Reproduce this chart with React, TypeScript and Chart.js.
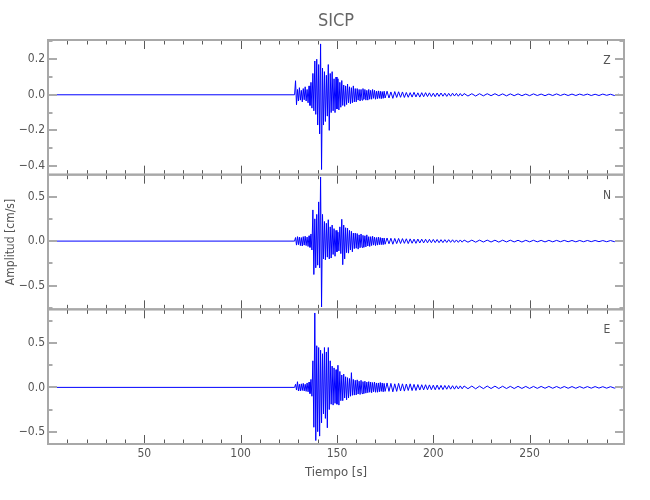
import React, { useEffect, useRef } from 'react';
import { Chart, registerables } from 'chart.js';

Chart.register(...registerables);

// ---------- text ----------
const stationName = 'SICP';
const componentNames = ['Z', 'N', 'E'];
const xAxisTitle = 'Tiempo [s]';
const yAxisTitle = 'Amplitud [cm/s]';

// ---------- axes ----------
const timeMin = 0;
const timeMax = 299;
const timeTicks = [50, 100, 150, 200, 250];
const timeMinorStep = 10;

const zRange = [-0.449, 0.308];
const nRange = [-0.766, 0.746];
const eRange = [-0.639, 0.881];
const zTicks = [-0.4, -0.2, 0.0, 0.2];
const nTicks = [-0.5, 0.0, 0.5];
const eTicks = [-0.5, 0.0, 0.5];
const zMinorStep = 0.1;
const nMinorStep = 0.25;
const eMinorStep = 0.25;

// ---------- data (cm/s) ----------
// pre-event baseline
const preTimes = [0];
const zPre = [0];
const nPre = [0];
const ePre = [0];

// strong motion: starts at 128 s, one value every 0.5 s
const onsetStart = 128;
const onsetStep = 0.5;
const zOnset = [
  0.0, 0.079, -0.056, 0.03, -0.035, 0.04, -0.03, 0.025, -0.04, 0.035,
  -0.028, 0.045, -0.035, 0.03, -0.045, 0.05, -0.06, 0.07, -0.075, 0.12,
  -0.09, 0.19, -0.11, 0.2, -0.17, 0.17, -0.22, 0.286, -0.42, 0.15,
  -0.17, 0.13, -0.15, 0.11, -0.12, 0.17, -0.2, 0.12, -0.1, 0.13,
  -0.09, 0.09, -0.1, 0.1, -0.08, 0.09, -0.085, 0.07, -0.07, 0.08,
  -0.06, 0.055, -0.065, 0.05, -0.055, 0.06, -0.045, 0.045, -0.05, 0.04,
  -0.045, 0.05, -0.04, 0.035, -0.04, 0.035, -0.03, 0.03, -0.035, 0.03,
  -0.03, 0.035, -0.025, 0.03, -0.03, 0.025, -0.03, 0.03, -0.025, 0.025,
  -0.025, 0.03, -0.02, 0.025, -0.025, 0.02, -0.022, 0.022, -0.02, 0.02,
  -0.022, 0.018, -0.02, 0.02, -0.018,
];
const nOnset = [
  0.0, 0.04, -0.045, 0.05, -0.04, 0.045, -0.05, 0.04, -0.055, 0.05,
  -0.045, 0.055, -0.05, 0.045, -0.06, 0.06, -0.07, 0.08, -0.1, 0.35,
  -0.375, 0.25, -0.3, 0.3, -0.27, 0.44, -0.3, 0.72, -0.74, 0.3,
  -0.2, 0.22, -0.21, 0.2, -0.18, 0.24, -0.2, 0.16, -0.19, 0.18,
  -0.15, 0.14, -0.17, 0.12, -0.12, 0.1, -0.11, 0.16, -0.14, 0.245,
  -0.265, 0.18, -0.2, 0.15, -0.13, 0.145, -0.135, 0.12, -0.1, 0.11,
  -0.12, 0.09, -0.085, 0.09, -0.08, 0.085, -0.09, 0.07, -0.075, 0.08,
  -0.07, 0.065, -0.07, 0.06, -0.065, 0.07, -0.055, 0.05, -0.06, 0.05,
  -0.05, 0.055, -0.045, 0.045, -0.05, 0.04, -0.045, 0.045, -0.04, 0.04,
  -0.04, 0.035, -0.04, 0.035, -0.035,
];
const eOnset = [
  0.0, 0.035, -0.03, 0.064, -0.04, 0.035, -0.04, 0.04, -0.035, 0.045,
  -0.04, 0.035, -0.045, 0.05, -0.05, 0.06, -0.07, 0.09, -0.1, 0.3,
  -0.45, 0.84, -0.6, 0.47, -0.5, 0.45, -0.55, 0.42, -0.4, 0.38,
  -0.3, 0.45, -0.35, 0.4, -0.456, 0.45, -0.25, 0.3, -0.19, 0.24,
  -0.2, 0.22, -0.18, 0.2, -0.19, 0.25, -0.2, 0.18, -0.15, 0.14,
  -0.15, 0.15, -0.12, 0.12, -0.14, 0.11, -0.12, 0.1, -0.1, 0.166,
  -0.09, 0.09, -0.087, 0.08, -0.085, 0.085, -0.075, 0.07, -0.08, 0.08,
  -0.07, 0.065, -0.07, 0.07, -0.065, 0.06, -0.06, 0.065, -0.055, 0.06,
  -0.06, 0.055, -0.05, 0.06, -0.055, 0.05, -0.055, 0.05, -0.05, 0.055,
  -0.045, 0.05, -0.05, 0.045, -0.045,
];

// coda: starts at 176 s, one value every second
const codaStart = 176;
const codaStep = 1;
const zCoda = [
  0.02, -0.018, 0.016, -0.02, 0.018, -0.015, 0.017, -0.014, 0.016, -0.015,
  0.013, -0.014, 0.012, -0.013, 0.014, -0.012, 0.011, -0.013, 0.012, -0.011,
  0.012, -0.01, 0.011, -0.01, 0.009, -0.011, 0.01, -0.009, 0.01, -0.008,
  0.009, -0.009, 0.008, -0.008, 0.009, -0.007, 0.008, -0.008, 0.007, -0.007,
];
const nCoda = [
  0.035, -0.03, 0.032, -0.035, 0.03, -0.028, 0.03, -0.027, 0.028, -0.025,
  0.026, -0.028, 0.025, -0.024, 0.022, -0.025, 0.023, -0.021, 0.022, -0.02,
  0.021, -0.019, 0.02, -0.018, 0.019, -0.017, 0.018, -0.018, 0.016, -0.017,
  0.016, -0.015, 0.016, -0.014, 0.015, -0.014, 0.013, -0.014, 0.013, -0.012,
];
const eCoda = [
  0.05, -0.045, 0.045, -0.05, 0.04, -0.045, 0.045, -0.04, 0.04, -0.042,
  0.038, -0.035, 0.04, -0.036, 0.034, -0.035, 0.032, -0.03, 0.03, -0.028,
  0.03, -0.027, 0.028, -0.026, 0.025, -0.027, 0.026, -0.024, 0.023, -0.025,
  0.022, -0.021, 0.022, -0.02, 0.019, -0.02, 0.018, -0.018, 0.017, -0.016,
];

// tail: starts at 216 s, one value every 2 s
const tailStart = 216;
const tailStep = 2;
const zTail = [
  0.007, -0.007, 0.006, -0.007, 0.006, -0.006, 0.006, -0.005, 0.006, -0.005,
  0.005, -0.006, 0.005, -0.005, 0.005, -0.005, 0.004, -0.005, 0.005, -0.004,
  0.004, -0.005, 0.004, -0.004, 0.005, -0.004, 0.004, -0.004, 0.004, -0.004,
  0.004, -0.003, 0.004, -0.004, 0.003, -0.004, 0.004, -0.003, 0.003, -0.004,
  0.003, -0.003,
];
const nTail = [
  0.012, -0.012, 0.011, -0.012, 0.011, -0.01, 0.011, -0.01, 0.01, -0.011,
  0.01, -0.009, 0.01, -0.009, 0.009, -0.01, 0.009, -0.008, 0.009, -0.008,
  0.008, -0.009, 0.008, -0.008, 0.008, -0.007, 0.008, -0.007, 0.007, -0.008,
  0.007, -0.007, 0.007, -0.006, 0.007, -0.006, 0.006, -0.007, 0.006, -0.006,
  0.006, -0.006,
];
const eTail = [
  0.016, -0.015, 0.015, -0.016, 0.014, -0.014, 0.015, -0.013, 0.014, -0.013,
  0.013, -0.013, 0.012, -0.013, 0.012, -0.012, 0.011, -0.012, 0.011, -0.011,
  0.011, -0.01, 0.011, -0.01, 0.01, -0.01, 0.01, -0.01, 0.009, -0.01,
  0.009, -0.009, 0.009, -0.009, 0.009, -0.008, 0.008, -0.009, 0.008, -0.008,
  0.008, -0.008,
];

type Pt = { x: number; y: number };

function buildTrace(pre: number[], onset: number[], coda: number[], tail: number[]): Pt[] {
  const pts: Pt[] = [];
  pre.forEach((v, i) => pts.push({ x: preTimes[i], y: v }));
  onset.forEach((v, i) => pts.push({ x: onsetStart + i * onsetStep, y: v }));
  coda.forEach((v, i) => pts.push({ x: codaStart + i * codaStep, y: v }));
  tail.forEach((v, i) => pts.push({ x: tailStart + i * tailStep, y: v }));
  return pts;
}

const FONT = "'DejaVu Sans Condensed', 'Liberation Sans Narrow', 'DejaVu Sans', sans-serif";
const TEXT_COLOR = '#555555';
const FRAME_COLOR = '#a8a8a8';
const TRACE_COLOR = '#0000ff';

const fmtAmp = (v: number) => (v < 0 ? '\u2212' : '') + Math.abs(v).toFixed(1);

const panels = [
  { id: 'yZ', range: zRange, ticks: zTicks, minor: zMinorStep, weight: 3 },
  { id: 'yN', range: nRange, ticks: nTicks, minor: nMinorStep, weight: 2 },
  { id: 'yE', range: eRange, ticks: eTicks, minor: eMinorStep, weight: 1 },
];

const framePlugin = {
  id: 'seisFrame',
  afterDatasetsDraw(chart: any) {
    const ctx = chart.ctx as CanvasRenderingContext2D;
    const { left, right } = chart.chartArea;
    const xs = chart.scales.x;
    panels.forEach((p, idx) => {
      const ys = chart.scales[p.id];
      const top = ys.top;
      const bottom = ys.bottom;
      ctx.save();
      // x ticks (top & bottom of each panel, pointing inward)
      ctx.strokeStyle = '#5a5a5a';
      ctx.lineWidth = 1;
      ctx.beginPath();
      for (let t = timeMin + timeMinorStep; t < timeMax; t += timeMinorStep) {
        const px = Math.round(xs.getPixelForValue(t)) + 0.5;
        const major = timeTicks.includes(t);
        const len = major ? 9 : 4.5;
        ctx.moveTo(px, top);
        ctx.lineTo(px, top + len);
        ctx.moveTo(px, bottom);
        ctx.lineTo(px, bottom - len);
      }
      ctx.stroke();
      // y ticks (left & right, pointing inward)
      ctx.strokeStyle = '#ababab';
      ctx.lineWidth = 2;
      ctx.beginPath();
      const startK = Math.ceil(p.range[0] / p.minor - 1e-6);
      const endK = Math.floor(p.range[1] / p.minor + 1e-6);
      for (let k = startK; k <= endK; k++) {
        const v = k * p.minor;
        const py = Math.round(ys.getPixelForValue(v));
        const major = p.ticks.some((t) => Math.abs(t - v) < 1e-6);
        const len = major ? 9 : 4.5;
        ctx.moveTo(left, py);
        ctx.lineTo(left + len, py);
        ctx.moveTo(right, py);
        ctx.lineTo(right - len, py);
      }
      ctx.stroke();
      // frame
      ctx.strokeStyle = FRAME_COLOR;
      ctx.lineWidth = 2;
      ctx.strokeRect(left, top, right - left, bottom - top);
      // component label
      ctx.fillStyle = TEXT_COLOR;
      ctx.font = `12px ${FONT}`;
      ctx.textAlign = 'center';
      ctx.textBaseline = 'middle';
      ctx.fillText(componentNames[idx], right - 17, top + 21);
      ctx.restore();
    });
  },
};

export default function App() {
  const ref = useRef<HTMLCanvasElement | null>(null);

  useEffect(() => {
    if (!ref.current) return;
    const traces = [
      buildTrace(zPre, zOnset, zCoda, zTail),
      buildTrace(nPre, nOnset, nCoda, nTail),
      buildTrace(ePre, eOnset, eCoda, eTail),
    ];

    const yScale = (p: typeof panels[number], withTitle: boolean) => ({
      type: 'linear',
      position: 'left',
      stack: 'panels',
      stackWeight: 1,
      weight: p.weight,
      min: p.range[0],
      max: p.range[1],
      afterBuildTicks: (s: any) => {
        s.ticks = p.ticks.map((v) => ({ value: v }));
      },
      afterFit: (s: any) => {
        s.width = 48;
      },
      grid: { display: false, drawTicks: false },
      border: { display: false },
      ticks: {
        color: TEXT_COLOR,
        font: { family: FONT, size: 12 },
        padding: 3,
        autoSkip: false,
        callback: (v: number) => fmtAmp(Number(v)),
      },
      title: {
        display: withTitle,
        text: yAxisTitle,
        color: TEXT_COLOR,
        font: { family: FONT, size: 12 },
        padding: { top: 4, bottom: 0 },
      },
    });

    const chart = new Chart(ref.current, {
      type: 'line',
      data: {
        datasets: traces.map((d, i) => ({
          label: componentNames[i],
          data: d,
          yAxisID: panels[i].id,
          borderColor: TRACE_COLOR,
          borderWidth: 1,
          borderJoinStyle: 'round',
          pointRadius: 0,
          tension: 0,
          fill: false,
        })),
      },
      options: {
        responsive: false,
        animation: false,
        devicePixelRatio: 1,
        parsing: false,
        normalized: true,
        layout: { padding: { left: 0, right: 26, top: 0, bottom: 0 } },
        plugins: {
          legend: { display: false },
          tooltip: { enabled: false },
          title: {
            display: true,
            text: stationName,
            color: '#666666',
            fullSize: false,
            font: { family: FONT, size: 18, weight: 'normal' },
            padding: { top: 11, bottom: 7.4 },
          },
        },
        scales: {
          x: {
            type: 'linear',
            position: 'bottom',
            min: timeMin,
            max: timeMax,
            afterBuildTicks: (s: any) => {
              s.ticks = timeTicks.map((v) => ({ value: v }));
            },
            afterFit: (s: any) => {
              s.height = 56;
            },
            grid: { display: false, drawTicks: false },
            border: { display: false },
            ticks: {
              color: TEXT_COLOR,
              font: { family: FONT, size: 12 },
              padding: 3,
              maxRotation: 0,
              autoSkip: false,
              callback: (v: number) => String(v),
            },
            title: {
              display: true,
              text: xAxisTitle,
              color: TEXT_COLOR,
              font: { family: FONT, size: 13 },
              padding: { top: 0, bottom: 20 },
            },
          },
          yZ: yScale(panels[0], false),
          yN: yScale(panels[1], true),
          yE: yScale(panels[2], false),
        } as any,
      },
      plugins: [framePlugin],
    } as any);

    return () => chart.destroy();
  }, []);

  return (
    <div style={{ position: 'absolute', left: 0, top: 0, width: 650, height: 500, background: '#ffffff' }}>
      <canvas ref={ref} width={650} height={500} style={{ display: 'block' }} />
    </div>
  );
}
